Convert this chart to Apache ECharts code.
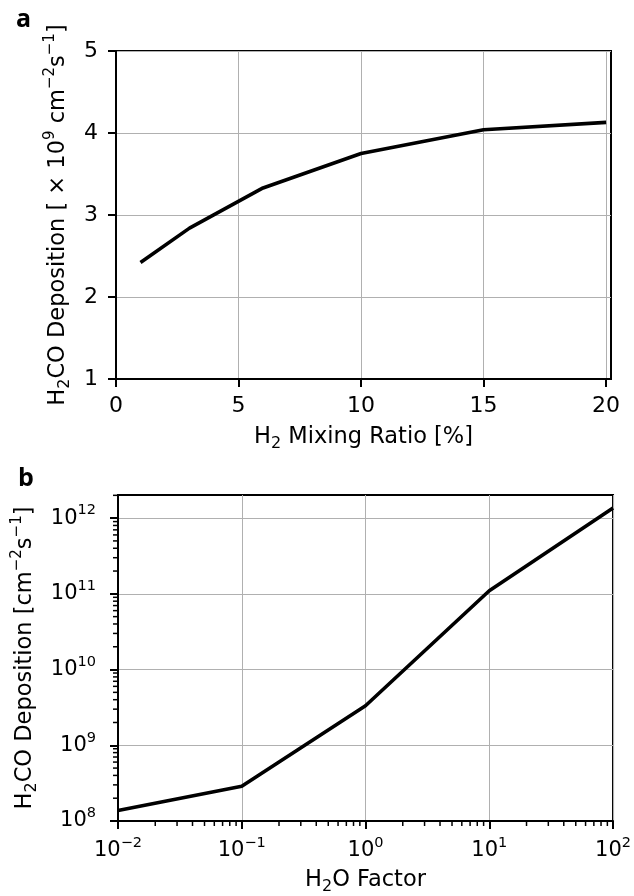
<!DOCTYPE html>
<html>
<head>
<meta charset="utf-8">
<script src="https://cdn.jsdelivr.net/npm/echarts@6/dist/echarts.min.js"></script>
<style>
html,body{margin:0;padding:0;background:#fff;}
#c{width:634px;height:896px;}
</style>
</head>
<body>
<div id="c"></div>
<script>
// Panel a data
const h2Ratio = [1, 3, 6, 10, 15, 20];
const h2coDepA = [2.42, 2.84, 3.33, 3.75, 4.04, 4.13];
const ticksAx = [0, 5, 10, 15, 20];
const ticksAy = [1, 2, 3, 4, 5];
// Panel b data
const h2oFactor = [0.01, 0.1, 1, 10, 100];
const h2coDepB = [1.38e8, 2.87e8, 3.33e9, 1.1e11, 1.36e12];
const ticksBx = [0.01, 0.1, 1, 10, 100];
const ticksBy = [1e8, 1e9, 1e10, 1e11, 1e12];
const minorMult = [2, 3, 4, 5, 6, 7, 8, 9];

const FONT = 'DejaVu Sans';
const chart = echarts.init(document.getElementById('c'), null, {renderer: 'canvas'});

const supStyle = {fontSize: 15, fontFamily: FONT, color: '#000', padding: [0, 0, 15, 0]};
const subStyle = {fontSize: 16, fontFamily: FONT, color: '#000', padding: [14, 0, 0, 0]};
const logSup = {fontSize: 14.5, fontFamily: FONT, color: '#000', padding: [0, 0, 15, 0]};
const logBase = {fontSize: 21, fontFamily: FONT, color: '#000'};

function logFmt(v) {
  const e = Math.round(Math.log10(v));
  return '{b|10}{s|' + (e < 0 ? '\u2212' + (-e) : e) + '}';
}

// minor tick positions for log axes (axis decoration)
const minorData = [];
[0.01, 0.1, 1, 10].forEach(d => minorMult.forEach(m => minorData.push([d * m, 1e8, 0])));
[1e8, 1e9, 1e10, 1e11, 1e12].forEach(d => minorMult.forEach(m => { const v = d * m; if (v <= 2.02e12) minorData.push([0.01, v, 1]); }));

const tickStyle = {show: true, inside: false, length: 8, lineStyle: {color: '#000', width: 2}};
const axisLineStyle = {show: true, lineStyle: {color: '#000', width: 2}};
const splitStyle = {show: true, lineStyle: {color: '#b0b0b0', width: 1}};

const option = {
  animation: false,
  backgroundColor: '#fff',
  title: [
    {text: 'a', left: 11, top: 2, textStyle: {fontFamily: 'Open Sans', fontWeight: 'bold', fontSize: 25, color: '#000'}},
    {text: 'b', left: 13, top: 461, textStyle: {fontFamily: 'Open Sans', fontWeight: 'bold', fontSize: 25, color: '#000'}}
  ],
  grid: [
    {left: 116, right: 23, top: 51, bottom: 517, show: true, borderColor: '#000', borderWidth: 2, backgroundColor: 'transparent'},
    {left: 118, right: 19, top: 495, bottom: 72, show: true, borderColor: '#000', borderWidth: 2, backgroundColor: 'transparent'}
  ],
  xAxis: [
    {
      gridIndex: 0, type: 'value', min: 0, max: 20.2, interval: 5,
      axisLine: axisLineStyle,
      axisTick: Object.assign({customValues: ticksAx}, tickStyle),
      splitLine: splitStyle,
      axisLabel: {customValues: ticksAx, fontFamily: FONT, fontSize: 22, color: '#000', margin: 16},
      name: 'H{sub|2} Mixing Ratio [%]', nameLocation: 'middle', nameGap: 43,
      nameTextStyle: {fontFamily: FONT, fontSize: 22.5, color: '#000', rich: {sub: subStyle}}
    },
    {
      gridIndex: 1, type: 'log', logBase: 10, min: 0.01, max: 100,
      axisLine: axisLineStyle,
      axisTick: Object.assign({customValues: ticksBx}, tickStyle),
      splitLine: splitStyle,
      axisLabel: {customValues: ticksBx, formatter: logFmt, margin: 15, rich: {b: logBase, s: logSup}},
      name: 'H{sub|2}O Factor', nameLocation: 'middle', nameGap: 44,
      nameTextStyle: {fontFamily: FONT, fontSize: 22.5, color: '#000', rich: {sub: subStyle}}
    }
  ],
  yAxis: [
    {
      gridIndex: 0, type: 'value', min: 1, max: 5, interval: 1,
      axisLine: axisLineStyle,
      axisTick: Object.assign({customValues: ticksAy}, tickStyle),
      splitLine: splitStyle,
      axisLabel: {customValues: ticksAy, fontFamily: FONT, fontSize: 22, color: '#000', margin: 18},
      name: 'H{sub|2}CO Deposition [ \u00d7 10{sup|9} cm{sup|\u22122}s{sup|\u22121}]',
      nameLocation: 'middle', nameGap: 28,
      nameTextStyle: {fontFamily: FONT, fontSize: 22.5, color: '#000', rich: {sub: subStyle, sup: supStyle}}
    },
    {
      gridIndex: 1, type: 'log', logBase: 10, min: 1e8, max: 2.02e12,
      axisLine: axisLineStyle,
      axisTick: Object.assign({customValues: ticksBy}, tickStyle),
      splitLine: splitStyle,
      axisLabel: {customValues: ticksBy, formatter: logFmt, margin: 22, rich: {b: logBase, s: logSup}},
      name: 'H{sub|2}CO Deposition [cm{sup|\u22122}s{sup|\u22121}]',
      nameLocation: 'middle', nameGap: 73,
      nameTextStyle: {fontFamily: FONT, fontSize: 22.5, color: '#000', rich: {sub: subStyle, sup: supStyle}}
    }
  ],
  series: [
    {
      type: 'line', xAxisIndex: 0, yAxisIndex: 0, showSymbol: false, symbol: 'none',
      lineStyle: {color: '#000', width: 3.6}, z: 5,
      data: h2Ratio.map((x, i) => [x, h2coDepA[i]])
    },
    {
      type: 'line', xAxisIndex: 1, yAxisIndex: 1, showSymbol: false, symbol: 'none',
      lineStyle: {color: '#000', width: 3.6}, z: 5,
      data: h2oFactor.map((x, i) => [x, h2coDepB[i]])
    },
    {
      type: 'custom', xAxisIndex: 1, yAxisIndex: 1, silent: true, clip: false, z: 6,
      data: minorData,
      renderItem: function (params, api) {
        const p = api.coord([api.value(0), api.value(1)]);
        const flag = api.value(2);
        const shape = flag === 0
          ? {x1: p[0], y1: p[1], x2: p[0], y2: p[1] + 5}
          : {x1: p[0] - 5, y1: p[1], x2: p[0], y2: p[1]};
        return {type: 'line', shape: shape, style: {stroke: '#000', lineWidth: 1.5}};
      }
    }
  ]
};
chart.setOption(option);
</script>
</body>
</html>
